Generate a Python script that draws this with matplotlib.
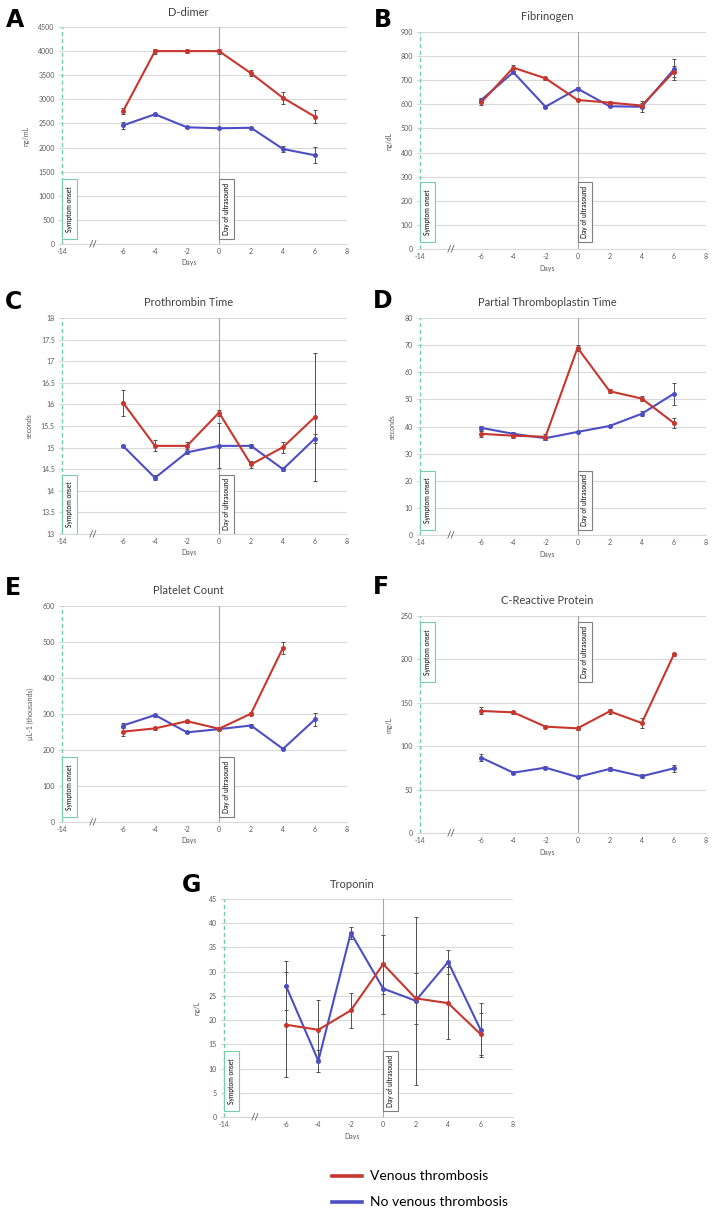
import matplotlib.pyplot as plt
from matplotlib.lines import Line2D
from matplotlib.patches import Rectangle
import numpy as np

plt.rcParams['font.family'] = ['Lato', 'DejaVu Sans']

days = [-6, -4, -2, 0, 2, 4, 6]
tick_labels = ['-14', '-6', '-4', '-2', '0', '2', '4', '6', '8']

# D-dimer
ddimer_vt = [2750, 4000, 4000, 4000, 3540, 3030, 2640]
ddimer_vt_err = [60, 50, 40, 50, 60, 130, 140]
ddimer_no = [2460, 2690, 2420, 2400, 2410, 1970, 1840]
ddimer_no_err = [80, 30, 20, 20, 20, 60, 170]

# Fibrinogen
fib_vt = [608, 752, 708, 618, 607, 595, 735]
fib_vt_err = [10, 12, 6, 5, 6, 10, 22]
fib_no = [618, 733, 590, 665, 592, 590, 745]
fib_no_err = [10, 5, 5, 5, 5, 22, 45]

# Prothrombin time
pt_vt = [16.04, 15.04, 15.04, 15.81, 14.61, 15.01, 15.71]
pt_vt_err = [0.3, 0.13, 0.08, 0.07, 0.09, 0.13, 1.48]
pt_no = [15.04, 14.30, 14.89, 15.04, 15.04, 14.50, 15.21]
pt_no_err = [0.03, 0.06, 0.04, 0.52, 0.04, 0.04, 0.1]

# Partial thromboplastin time
ptt_vt = [37.3, 36.6, 36.2, 69.0, 53.0, 50.3, 41.3]
ptt_vt_err = [1.2, 0.9, 1.0, 1.0, 0.7, 1.0, 1.8]
ptt_no = [39.5, 37.3, 35.7, 38.0, 40.2, 44.7, 52.1]
ptt_no_err = [0.8, 0.5, 0.7, 0.3, 0.5, 1.0, 4.0]

# Platelet count
plt_vt = [251, 260, 280, 259, 301, 484, np.nan]
plt_vt_err = [12, 4, 4, 4, 5, 16, 0]
plt_no = [268, 297, 249, 258, 268, 203, 285]
plt_no_err = [6, 4, 3, 3, 3, 4, 18]

# C-reactive protein
crp_vt = [140.6, 139, 122.5, 120.6, 140.2, 126.7, 205.8]
crp_vt_err = [4, 2, 2, 2, 3, 6, 2]
crp_no = [86.8, 69.5, 75.3, 64.5, 73.8, 65.4, 74.5]
crp_no_err = [4, 2, 2, 1.5, 2, 2.5, 4]

# Troponin
trop_vt = [19.05, 18.0, 22.0, 31.55, 24.5, 23.5, 17.1]
trop_vt_err = [10.8, 6.1, 3.6, 6.1, 5.2, 7.5, 4.4]
trop_no = [27.1, 11.6, 38.0, 26.5, 24.0, 32.0, 18.0]
trop_no_err = [5.0, 2.3, 1.3, 5.3, 17.3, 2.4, 5.6]

red = '#C8372D'
blue = '#4E4EC4'
green = '#72CFA8'
grid_c = '#D9D9D9'
txt_c = '#595959'

onset_pos = -9.8  # where day -14 sits on the broken axis

W, H = 716, 1215
fig = plt.figure(figsize=(W / 100, H / 100), dpi=100)

panels = [
    ('A', 'D-dimer', 'ng/mL', 0, 4500, 500, ddimer_vt, ddimer_vt_err, ddimer_no, ddimer_no_err,
     0.025, (59, 347, 27, 244), (15, 20)),
    ('B', 'Fibrinogen', 'ng/dL', 0, 900, 100, fib_vt, fib_vt_err, fib_no, fib_no_err,
     0.032, (417, 706, 32, 249), (383, 20)),
    ('C', 'Prothrombin Time', 'seconds', 13, 18, 0.5, pt_vt, pt_vt_err, pt_no, pt_no_err,
     0.0, (59, 347, 318, 534), (14, 302)),
    ('D', 'Partial Thromboplastin Time', 'seconds', 0, 80, 10, ptt_vt, ptt_vt_err, ptt_no, ptt_no_err,
     0.022, (417, 706, 318, 535), (383, 301)),
    ('E', 'Platelet Count', 'µL-1 (thousands)', 0, 600, 100, plt_vt, plt_vt_err, plt_no, plt_no_err,
     0.024, (59, 347, 606, 822), (13, 588)),
    ('F', 'C-Reactive Protein', 'mg/L', 0, 250, 50, crp_vt, crp_vt_err, crp_no, crp_no_err,
     0.697, (417, 706, 616, 833), (381, 587)),
    ('G', 'Troponin', 'ng/L', 0, 45, 5, trop_vt, trop_vt_err, trop_no, trop_no_err,
     0.028, (221, 513, 899, 1117), (192, 885)),
]

box_h = 0.275

for (letter, title, ylab, ymin, ymax, ystep, vt, vt_err, no, no_err,
     box_y, (l, r, t, b), (lx, ly)) in panels:
    ax = fig.add_axes([l / W, 1 - b / H, (r - l) / W, (b - t) / H])
    hpx = b - t
    ax.set_xlim(-10, 8)
    ax.set_ylim(ymin, ymax)
    yt = np.arange(ymin, ymax + ystep / 2, ystep)
    ax.set_yticks(yt)
    ax.set_yticklabels(['%g' % v for v in yt])
    ax.set_xticks([onset_pos] + list(range(-6, 9, 2)))
    ax.set_xticklabels(tick_labels)
    ax.tick_params(length=0, labelsize=5, colors=txt_c, pad=3)
    for s in ['top', 'right', 'left']:
        ax.spines[s].set_visible(False)
    ax.spines['bottom'].set_color(grid_c)
    ax.spines['bottom'].set_linewidth(0.8)
    ax.grid(axis='y', color=grid_c, lw=0.8)
    ax.set_axisbelow(True)

    ax.axvline(onset_pos, color=green, ls=(0, (3, 2)), lw=1.0)
    ax.axvline(0, color='#A6A6A6', lw=0.8)

    trans = ax.get_xaxis_transform()
    for x0, label, ec in [(onset_pos, 'Symptom onset', green), (0, 'Day of ultrasound', '#7F7F7F')]:
        ax.add_patch(Rectangle((x0, box_y), 0.92, box_h, transform=trans, fc='white',
                               ec=ec, lw=0.8, zorder=5))
        ax.text(x0 + 0.46, box_y + box_h / 2, label, rotation=90, transform=trans,
                fontsize=4.8, va='center', ha='center', color='black', zorder=6)
    ax.text(-7.9, ymin, '//', transform=ax.transData, fontsize=7, ha='center',
            va='center', color='#404040')

    for vals, errs, col in [(no, no_err, blue), (vt, vt_err, red)]:
        ax.errorbar(days, vals, yerr=errs, fmt='none', ecolor='#505050', elinewidth=0.7,
                    capsize=1.6, capthick=0.7, zorder=3)
        ax.plot(days, vals, color=col, lw=1.5, marker='o', ms=2.6, zorder=4)

    ax.text(0.45, 1 + 15 / hpx, title, transform=ax.transAxes, fontsize=8,
            ha='center', va='center', color='#404040')
    ax.text(0.45, -19 / hpx, 'Days', transform=ax.transAxes, fontsize=5,
            ha='center', va='center', color=txt_c)
    ax.set_ylabel(ylab, fontsize=5, color=txt_c, labelpad=6)
    fig.text(lx / W, 1 - ly / H, letter, fontsize=17, fontweight='bold',
             ha='center', va='center', family='DejaVu Sans')

handles = [Line2D([], [], color=red, lw=2.6), Line2D([], [], color=blue, lw=2.6)]
fig.legend(handles, ['Venous thrombosis', 'No venous thrombosis'], loc='upper left',
           bbox_to_anchor=(319 / W, 1 - 1158 / H), frameon=False, fontsize=10,
           handlelength=2.2, handletextpad=0.6, labelspacing=1.0)

fig.savefig('out.png', dpi=100)
